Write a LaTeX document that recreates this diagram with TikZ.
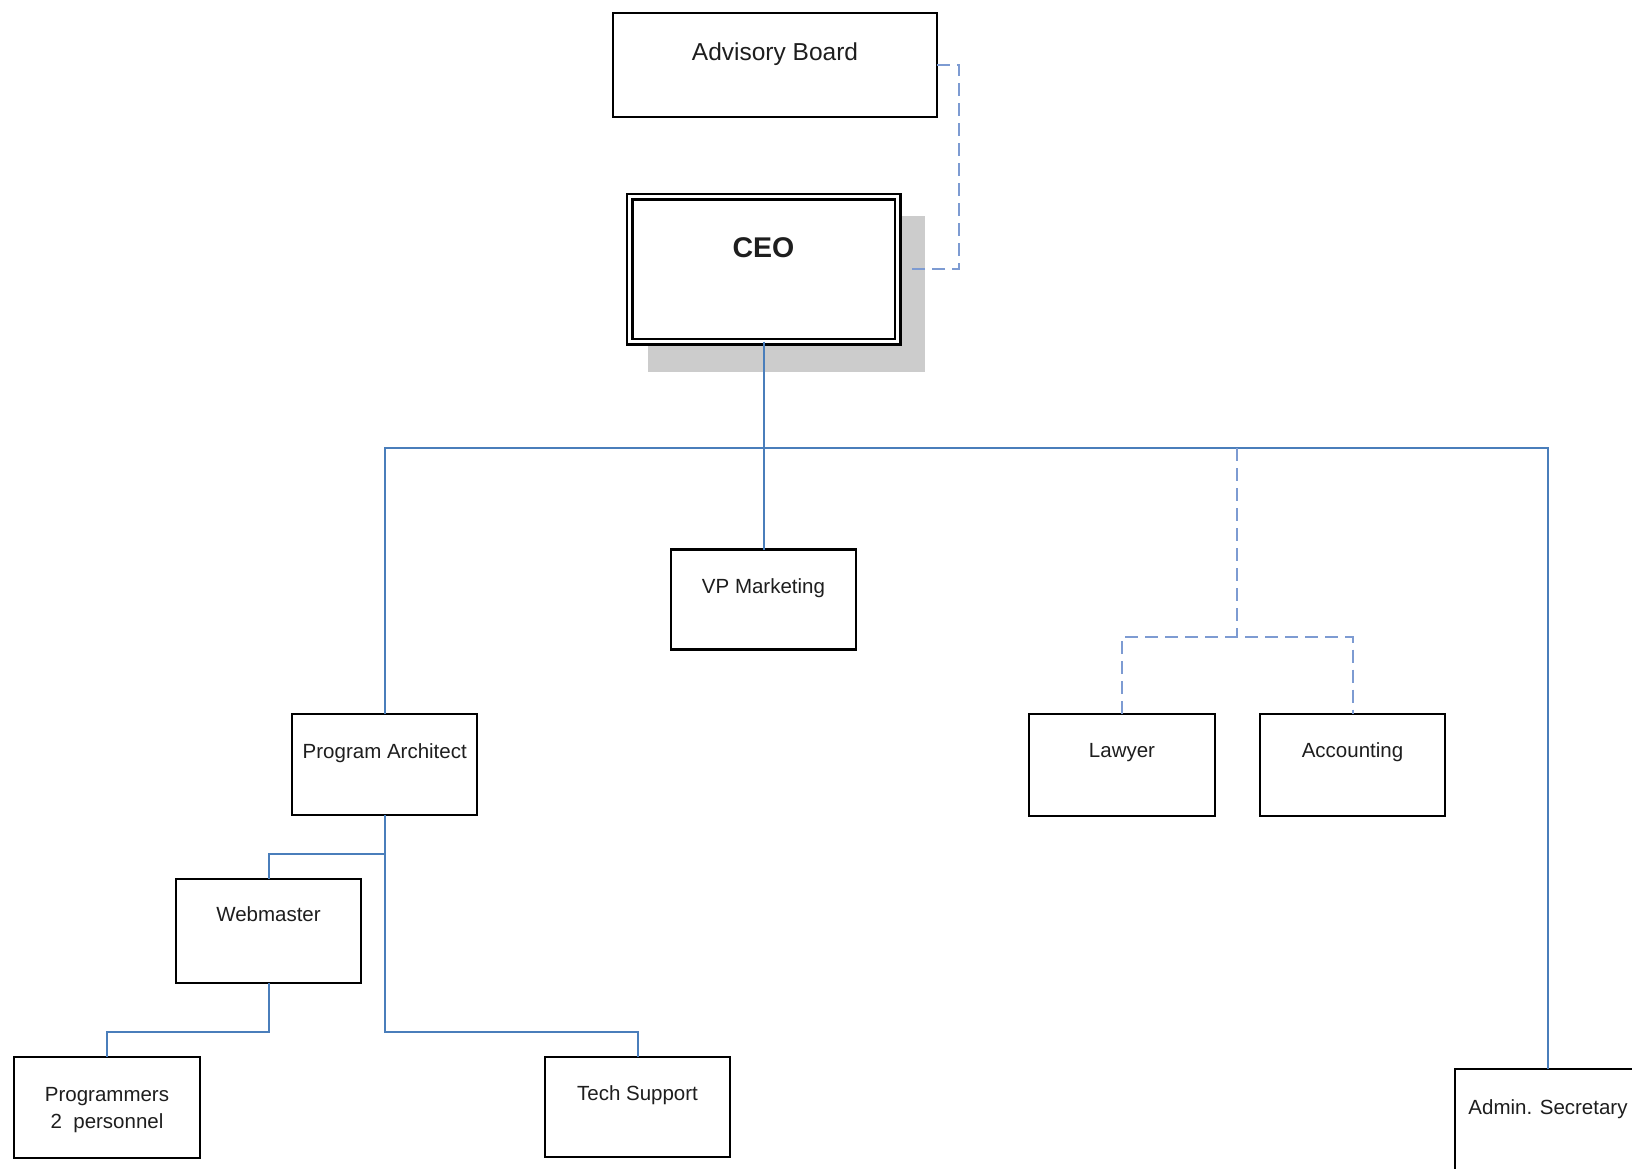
\documentclass[tikz,border=0pt]{standalone}
\usepackage{fontspec}
\setmainfont{Liberation Sans}
\usetikzlibrary{backgrounds}
\definecolor{conn}{RGB}{74,126,187}
\definecolor{dconn}{RGB}{125,155,210}
\definecolor{shadowc}{RGB}{204,204,204}
\definecolor{txt}{RGB}{30,30,30}
\tikzset{
  box/.style={draw=black, line width=2.4pt, fill=white, minimum width=185pt, minimum height=101pt, inner sep=0pt, outer sep=0pt},
  lab/.style={anchor=base, inner sep=0pt, text=txt, font=\fontsize{20.5}{24}\selectfont},
  solidc/.style={draw=conn, line width=2pt},
  dashc/.style={draw=dconn, line width=2pt, dash pattern=on 13pt off 7pt},
}
\begin{document}
\begin{tikzpicture}[x=1pt,y=-1pt]
\useasboundingbox (0,0) rectangle (1632,1168);
\clip (0,0) rectangle (1632,1168);

% boxes
\node[box, minimum width=324pt, minimum height=104pt,
  label={[lab, font=\fontsize{24.5}{29}\selectfont, yshift=-47pt]north:Advisory Board}] (adv) at (775,65) {};
\node[box, double=white, double distance=3pt, line width=2.5pt, minimum width=268pt, minimum height=145pt,
  label={[lab, font=\bfseries\fontsize{28.5}{34}\selectfont, yshift=-60.5pt]north:CEO}] (ceo) at (763.5,269) {};
\begin{scope}[on background layer]
  \fill[shadowc] ([shift={(18.5,19.5)}]ceo.north west) rectangle ([shift={(27.5,30.5)}]ceo.south east);
\end{scope}
\node[box, minimum height=100pt, label={[lab, yshift=-43.5pt]north:VP Marketing}] (vp) at (763.5,599.5) {};
\node[box, label={[lab, yshift=-44pt]north:Program Architect}] (pa) at (384.75,764.5) {};
\node[box, minimum height=104pt, label={[lab, yshift=-42.7pt]north:Webmaster}] (web) at (268.5,931) {};
\node[box, minimum width=186pt, label={[lab, anchor=north, align=center, font=\fontsize{20.5}{26.7}\selectfont, yshift=-30pt]north:{Programmers\\2\ \ personnel}}] (prog) at (107,1107.5) {};
\node[box, minimum height=100pt, label={[lab, yshift=-43pt]north:Tech Support}] (tech) at (637.5,1107) {};
\node[box, minimum width=186pt, minimum height=102pt, label={[lab, yshift=-43pt]north:Lawyer}] (law) at (1122,765) {};
\node[box, minimum height=102pt, label={[lab, yshift=-43pt]north:Accounting}] (acc) at (1352.5,765) {};
\node[box, minimum width=186pt, minimum height=102pt, label={[lab, yshift=-45pt]north:Admin. Secretary}] (adm) at (1548,1120) {};

% solid connectors
\coordinate (bus) at (763.5,448);
\draw[solidc] (ceo.south) -- (vp.north);
\draw[solidc] (pa.north) |- (bus) -| (adm.north);
\coordinate (pj) at (384.75,854);
\coordinate (tj) at (384.75,1032);
\draw[solidc] (pa.south) -- (pj) -| (web.north);
\draw[solidc] (pj) -- (tj) -| (tech.north);
\coordinate (wj) at (268.5,1032);
\draw[solidc] (web.south) -- (wj) -| (prog.north);

% dashed connectors
\coordinate (advk) at (959,65);
\coordinate (ceor) at (912,269);
\draw[dashc] (adv.east) -- (advk) |- (ceor);
\coordinate (lj) at (1237,637);
\draw[dashc] (lj |- bus) -- (lj);
\draw[dashc] (law.north) |- (lj) -| (acc.north);
\end{tikzpicture}
\end{document}
